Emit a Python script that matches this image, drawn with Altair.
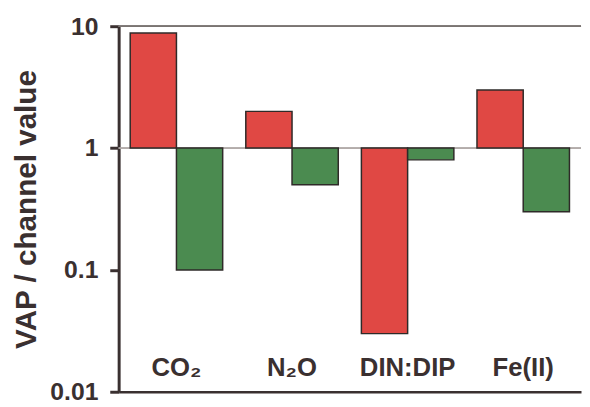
import altair as alt
import pandas as pd

categories = ["CO₂", "N₂O", "DIN:DIP", "Fe(II)"]
series_names = ["VAP", "channel"]
red_values = [8.8, 2.0, 0.03, 3.0]
green_values = [0.1, 0.5, 0.8, 0.3]
y_ticks = [0.01, 0.1, 1, 10]

rows = []
for c, r, g in zip(categories, red_values, green_values):
    rows.append({"category": c, "series": series_names[0], "value": r})
    rows.append({"category": c, "series": series_names[1], "value": g})
df = pd.DataFrame(rows)
lab = pd.DataFrame({"category": categories})

FONT = "Liberation Sans"
DARK = "#3a3030"

xenc = alt.X("category:N", sort=categories,
             scale=alt.Scale(paddingInner=0.2, paddingOuter=0.1),
             axis=alt.Axis(title=None, labels=False, ticks=False, domain=True,
                           domainColor=DARK, domainWidth=2.5, grid=False))
yscale = alt.Scale(type="log", domain=[0.01, 10], nice=False, clamp=True)

bars = alt.Chart(df).mark_bar(stroke="#2e2a28", strokeWidth=1.5).encode(
    x=xenc,
    xOffset=alt.XOffset("series:N", sort=series_names,
                        scale=alt.Scale(paddingInner=0, paddingOuter=0)),
    y=alt.Y("value:Q", scale=yscale,
            axis=alt.Axis(title="VAP / channel value", values=y_ticks, format="~g",
                          grid=False, domainColor=DARK, domainWidth=3,
                          tickColor=DARK, tickWidth=3, tickSize=9,
                          labelFont=FONT, labelFontSize=25, labelFontWeight="bold",
                          labelColor=DARK, labelPadding=12,
                          titleFont=FONT, titleFontSize=30, titleFontWeight="bold",
                          titleColor=DARK, titlePadding=9)),
    y2=alt.datum(1),
    color=alt.Color("series:N", sort=series_names,
                    scale=alt.Scale(domain=series_names, range=["#e04844", "#4b8b50"]),
                    legend=None),
)

one_line = alt.Chart(lab).mark_rule(color="#b0aaa8", strokeWidth=1).encode(y=alt.datum(1))
top_line = alt.Chart(lab).mark_rule(color="#7a7472", strokeWidth=1.5).encode(y=alt.datum(10))

labels = alt.Chart(lab).mark_text(font=FONT, fontSize=26, fontWeight="bold",
                                  color=DARK, baseline="middle").encode(
    x=alt.X("category:N", sort=categories),
    y=alt.datum(0.0155),
    text="category:N",
)

chart = alt.layer(one_line, bars, top_line, labels).properties(
    width=468, height=370,
    padding={"left": 3, "top": 4, "right": 0, "bottom": 0},
    background="white",
).configure_view(stroke=None)

chart.save("out.html", embed_options={"renderer": "svg", "actions": False})
